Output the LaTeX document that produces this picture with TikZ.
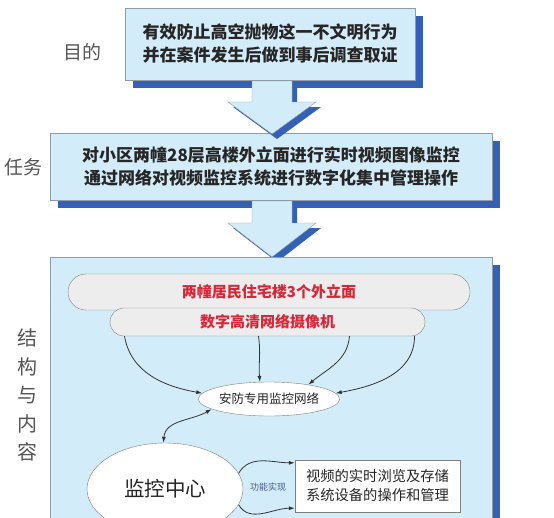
\documentclass[tikz,border=0pt]{standalone}
\usepackage{fontspec}
\setmainfont{Liberation Sans}
\newfontfamily\cjk{Noto Sans CJK SC}
\usepackage{xcolor}
\usepackage{tikz}
\usetikzlibrary{arrows.meta,shadows,shapes.geometric}

\definecolor{boxblue}{HTML}{D3ECFA}
\definecolor{shblue}{HTML}{3461B5}
\definecolor{edgegray}{HTML}{8E9BA8}
\definecolor{pillgray}{HTML}{EDEDED}
\definecolor{pilledge}{HTML}{7F7F7F}
\definecolor{txtred}{HTML}{D62839}
\definecolor{lblgray}{HTML}{555555}
\definecolor{fnblue}{HTML}{4A5A8A}

\begin{document}
\begin{tikzpicture}[x=1pt,y=-1pt,
    bigbox/.style={draw=edgegray,fill=boxblue,inner sep=0pt,align=center,
      font=\cjk\bfseries\fontsize{17}{23}\selectfont,text=black!85,
      general shadow={fill=shblue,shadow xshift=8pt,shadow yshift=-8pt}},
    pill/.style={draw=pilledge,fill=pillgray,rounded corners=#1,inner sep=0pt,
      text=txtred,font=\cjk\bfseries\fontsize{15}{15}\selectfont},
    oval/.style={ellipse,draw=pilledge,fill=white,inner sep=0pt,text=black!85},
    side/.style={text=lblgray,font=\cjk\fontsize{19}{19}\selectfont},
    arr/.style={-{Latex[length=6pt,width=4pt]},black!80,thick}]
  \clip (0,0) rectangle (554,517);
  \fill[white] (0,0) rectangle (554,517);

  % boxes
  \node[bigbox,minimum width=290,minimum height=72] (goal) at (270,44)
    {有效防止高空抛物这一不文明行为\\并在案件发生后做到事后调查取证};
  \node[bigbox,minimum width=442,minimum height=67] (task) at (271,166.5)
    {对小区两幢28层高楼外立面进行实时视频图像监控\\通过网络对视频监控系统进行数字化集中管理操作};

  % block arrows
  \fill[shblue,shift={(5,5)}] (252,81) -- (252,102) -- (228,102) -- (272,134)
    -- (316,102) -- (292,102) -- (292,81) -- cycle;
  \filldraw[fill=boxblue,draw=edgegray] (252,81) -- (252,102) -- (228,102) -- (272,134)
    -- (316,102) -- (292,102) -- (292,81) -- cycle;
  \fill[shblue,shift={(5,5)}] (252,201) -- (252,223) -- (228,223) -- (272,257)
    -- (316,223) -- (292,223) -- (292,201) -- cycle;
  \filldraw[fill=boxblue,draw=edgegray] (252,201) -- (252,223) -- (228,223) -- (272,257)
    -- (316,223) -- (292,223) -- (292,201) -- cycle;

  \node[bigbox,minimum width=442,minimum height=283] (body) at (271,398.5) {};

  % side labels
  \node[side] (lgoal) at (82,52) {目的};
  \node[side] (ltask) at (24,167) {任务};
  \node[side,align=center,font=\cjk\fontsize{20}{28.5}\selectfont] (lbody) at (27,395)
    {结\\构\\与\\内\\容};

  % content
  \node[pill=18pt,minimum width=402,minimum height=36] (wall) at (269,292)
    {两幢居民住宅楼3个外立面};
  \node[pill=14pt,minimum width=315,minimum height=28] (cam) at (267.5,322)
    {数字高清网络摄像机};
  \node[oval,minimum width=124,minimum height=34,
    font=\cjk\fontsize{12.5}{12.5}\selectfont] (net) at (269,399) {安防专用监控网络};
  \node[oval,minimum width=156,minimum height=92,
    font=\cjk\fontsize{20.5}{20.5}\selectfont] (mon) at (165,489) {监控中心};
  \node[draw=pilledge,fill=white,inner sep=0pt,minimum width=165,minimum height=52,
    align=center,text=black!85,font=\cjk\fontsize{14.3}{19}\selectfont] (fun) at (377.5,486)
    {视频的实时浏览及存储\\系统设备的操作和管理};
  \node[text=fnblue,font=\cjk\fontsize{9}{9}\selectfont] (flab) at (268,487) {功能实现};

  % connectors
  \draw[arr] ([xshift=-143pt]cam.south) to[out=-80,in=170] (net.175);
  \draw[arr] ([xshift=-9pt]cam.south) to[out=-82,in=95] (net.118);
  \draw[arr] ([xshift=82pt]cam.south) to[out=-95,in=40] (net.20);
  \draw[arr] ([xshift=147pt]cam.south) to[out=-90,in=10] (net.5);
  \draw[arr,{Latex[length=6pt,width=4pt]}-{Latex[length=6pt,width=4pt]}]
    (mon.92) to[out=85,in=-150] (net.190);
  \draw[arr] (mon.12) to[out=60,in=180] ([yshift=-3pt]fun.north west);
  \draw[arr] (mon.-12) to[out=-60,in=180] ([yshift=4pt]fun.south west);
\end{tikzpicture}
\end{document}
